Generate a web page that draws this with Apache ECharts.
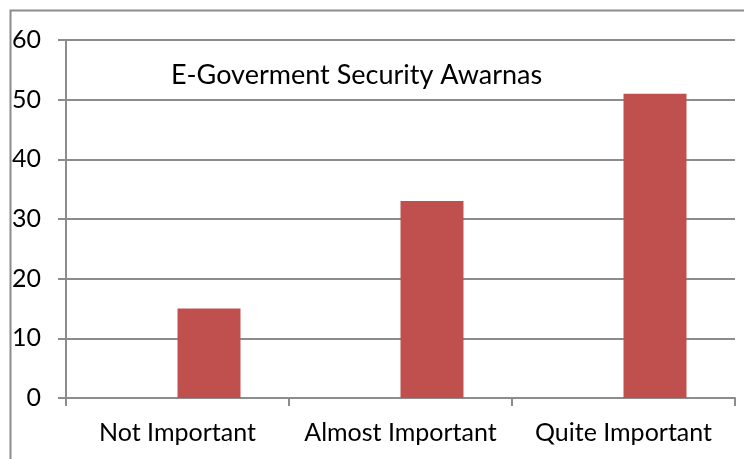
<!DOCTYPE html>
<html>
<head>
<meta charset="utf-8">
<script src="https://cdn.jsdelivr.net/npm/echarts@6/dist/echarts.min.js"></script>
<style>
  html, body { margin: 0; padding: 0; background: #fff; }
  #chart { width: 744px; height: 459px; }
</style>
</head>
<body>
<div id="chart"></div>
<script>
// Survey answers on e-government security awareness
const chartTitle = 'E-Goverment Security Awarnas';
const categories = ['Not Important', 'Almost Important', 'Quite Important'];
const emptySeries = [null, null, null];   // unused first series slot
const awarenessValues = [15, 33, 51];
const yTicks = { min: 0, max: 60, interval: 10 };

const FONT = 'Lato';
const GRAY = '#8c8c8c';

const chart = echarts.init(document.getElementById('chart'), null, { renderer: 'canvas' });

chart.setOption({
  animation: false,
  backgroundColor: '#fff',
  title: {
    text: chartTitle,
    left: 166,
    top: 57,
    textStyle: { fontFamily: FONT, fontSize: 27, fontWeight: 'normal', color: '#000' }
  },
  graphic: [{
    type: 'rect',
    shape: { x: 10.5, y: 10.5, width: 900, height: 900 },
    style: { fill: null, stroke: GRAY, lineWidth: 2 },
    silent: true
  }],
  grid: { left: 66, right: 9, top: 40, bottom: 61, containLabel: false },
  xAxis: {
    type: 'category',
    data: categories,
    axisLine: { lineStyle: { color: GRAY, width: 2 } },
    axisTick: { show: true, length: 8, alignWithLabel: false, lineStyle: { color: GRAY, width: 2 } },
    axisLabel: { fontFamily: FONT, fontSize: 25, color: '#000', margin: 22, interval: 0 },
    splitLine: { show: false }
  },
  yAxis: {
    type: 'value',
    min: yTicks.min,
    max: yTicks.max,
    interval: yTicks.interval,
    axisLine: { show: true, lineStyle: { color: GRAY, width: 2 } },
    axisTick: { show: true, length: 8, lineStyle: { color: GRAY, width: 2 } },
    axisLabel: { fontFamily: FONT, fontSize: 25, color: '#000', margin: 25 },
    splitLine: { show: true, lineStyle: { color: GRAY, width: 2 } }
  },
  series: [
    {
      name: 'blank',
      type: 'bar',
      data: emptySeries,
      barGap: '0%',
      barCategoryGap: '43.5%'
    },
    {
      name: 'Awareness',
      type: 'bar',
      data: awarenessValues,
      barGap: '0%',
      barCategoryGap: '43.5%',
      itemStyle: { color: '#C0504D' }
    }
  ]
});
</script>
</body>
</html>
